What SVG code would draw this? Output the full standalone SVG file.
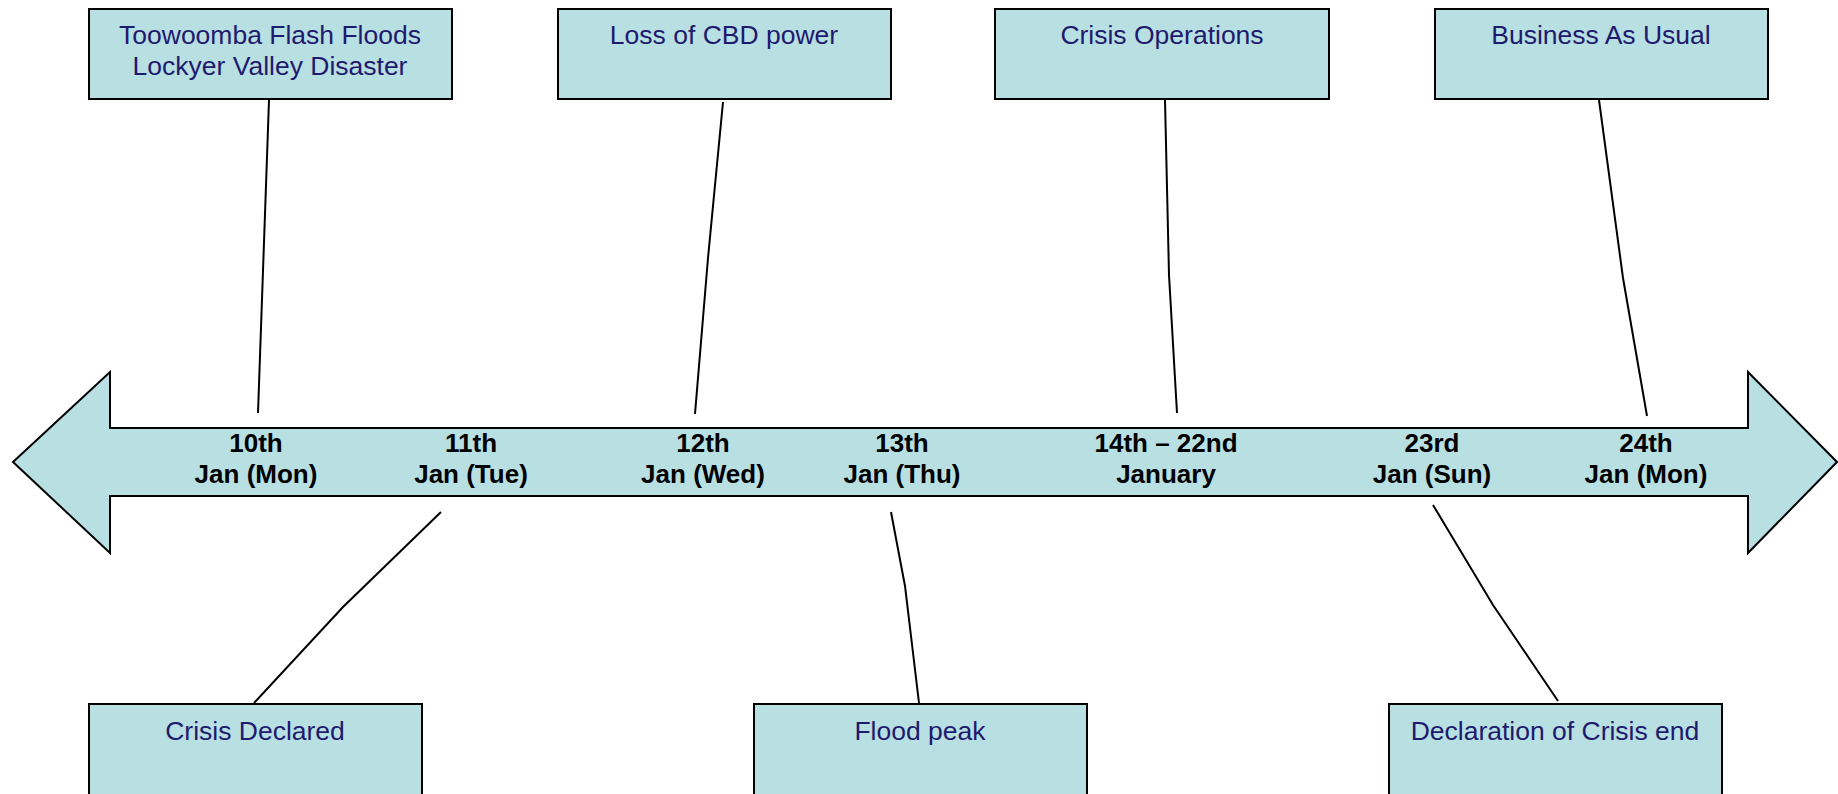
<svg xmlns="http://www.w3.org/2000/svg" width="1838" height="794" viewBox="0 0 1838 794">
<style>
.box{fill:#B8DFE2;stroke:#000;stroke-width:2}
.bt{font-family:"Liberation Sans",Arial,sans-serif;font-size:26.5px;fill:#1E1A6E;text-anchor:middle}
.dt{font-family:"Liberation Sans",Arial,sans-serif;font-size:26px;font-weight:bold;fill:#000;text-anchor:middle}
.ln{fill:none;stroke:#000;stroke-width:2}
</style>
<rect width="1838" height="794" fill="#fff"/>
<g id="timeline">
<polygon class="box" points="13,462 110,372 110,428 1748,428 1748,372 1837,462 1748,553 1748,496 110,496 110,553"/>
<text class="dt" x="256" y="452">10th</text><text class="dt" x="256" y="483">Jan (Mon)</text>
<text class="dt" x="471" y="452">11th</text><text class="dt" x="471" y="483">Jan (Tue)</text>
<text class="dt" x="703" y="452">12th</text><text class="dt" x="703" y="483">Jan (Wed)</text>
<text class="dt" x="902" y="452">13th</text><text class="dt" x="902" y="483">Jan (Thu)</text>
<text class="dt" x="1166" y="452">14th – 22nd</text><text class="dt" x="1166" y="483">January</text>
<text class="dt" x="1432" y="452">23rd</text><text class="dt" x="1432" y="483">Jan (Sun)</text>
<text class="dt" x="1646" y="452">24th</text><text class="dt" x="1646" y="483">Jan (Mon)</text>
</g>
<g id="connectors">
<polyline class="ln" points="269,100 258,413"/>
<polyline class="ln" points="723,102 708,258 695,414"/>
<polyline class="ln" points="1165,100 1169,275 1177,413"/>
<polyline class="ln" points="1599,100 1623,278 1647,416"/>
<polyline class="ln" points="441,512 343,607 254,703"/>
<polyline class="ln" points="891,512 905,586 919,703"/>
<polyline class="ln" points="1433,505 1493,605 1558,701"/>
</g>
<g id="n1"><rect class="box" x="89" y="9" width="363" height="90"/><text class="bt" x="270" y="44">Toowoomba Flash Floods</text><text class="bt" x="270" y="75">Lockyer Valley Disaster</text></g>
<g id="n2"><rect class="box" x="558" y="9" width="333" height="90"/><text class="bt" x="724" y="44">Loss of CBD power</text></g>
<g id="n3"><rect class="box" x="995" y="9" width="334" height="90"/><text class="bt" x="1162" y="44">Crisis Operations</text></g>
<g id="n4"><rect class="box" x="1435" y="9" width="333" height="90"/><text class="bt" x="1601" y="44">Business As Usual</text></g>
<g id="n5"><rect class="box" x="89" y="704" width="333" height="100"/><text class="bt" x="255" y="740">Crisis Declared</text></g>
<g id="n6"><rect class="box" x="754" y="704" width="333" height="100"/><text class="bt" x="920" y="740">Flood peak</text></g>
<g id="n7"><rect class="box" x="1389" y="704" width="333" height="100"/><text class="bt" x="1555" y="740">Declaration of Crisis end</text></g>
</svg>
